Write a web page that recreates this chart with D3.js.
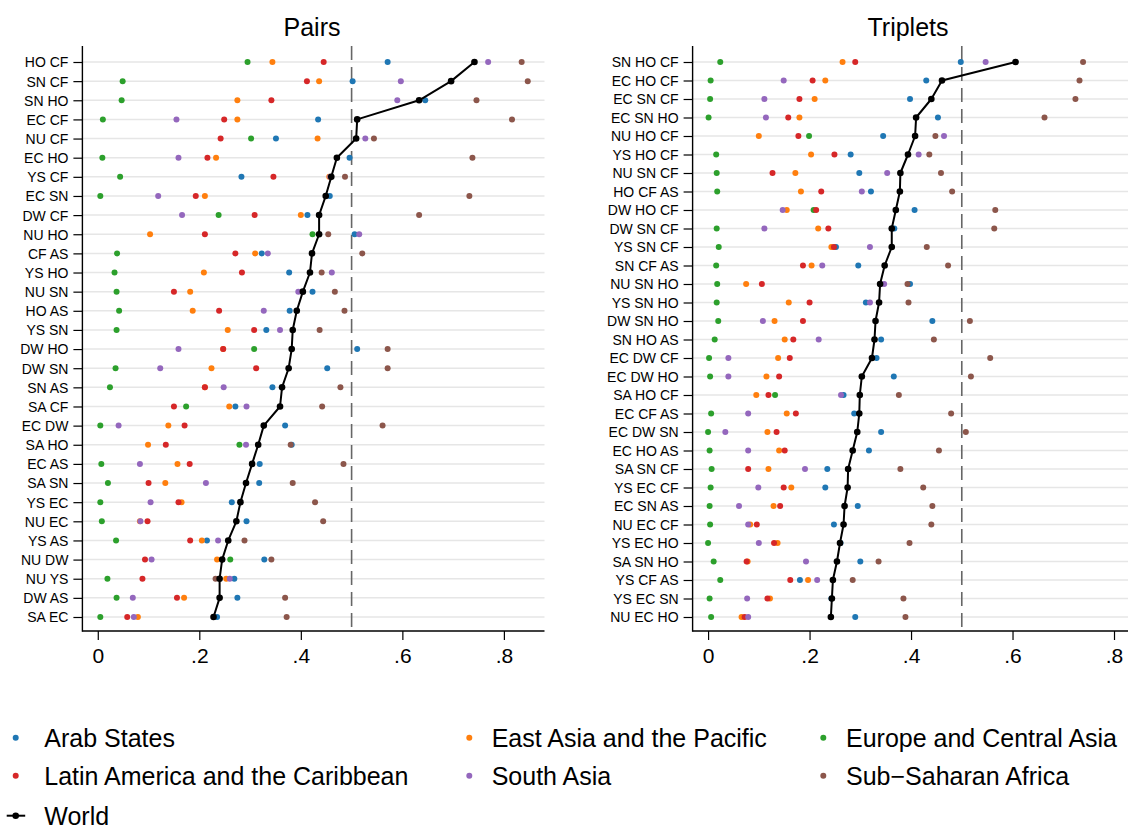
<!DOCTYPE html>
<html>
<head>
<meta charset="utf-8">
<script src="https://cdn.jsdelivr.net/npm/d3@7"></script>
<style>
  html, body { margin: 0; padding: 0; background: #fff; }
  svg { display: block; font-family: "Liberation Sans", Arial, Helvetica, sans-serif; }
</style>
</head>
<body>
<div id="chart"></div>
<script>
// ---------------- DATA ----------------
const seriesNames = ["Arab States", "East Asia and the Pacific", "Europe and Central Asia",
  "Latin America and the Caribbean", "South Asia", "Sub\u2212Saharan Africa", "World"];
const seriesColors = ["#1f77b4", "#ff7f0e", "#2ca02c", "#d62728", "#9467bd", "#8c564b", "#000000"];
const xTicks = [0, 0.2, 0.4, 0.6, 0.8];
const xTickLabels = ["0", ".2", ".4", ".6", ".8"];
const refLine = 0.5;

// Pairs
const pairCats = ["HO CF","SN CF","SN HO","EC CF","NU CF","EC HO","YS CF","EC SN","DW CF","NU HO",
  "CF AS","YS HO","NU SN","HO AS","YS SN","DW HO","DW SN","SN AS","SA CF","EC DW",
  "SA HO","EC AS","SA SN","YS EC","NU EC","YS AS","NU DW","NU YS","DW AS","SA EC"];
const pairArab  = [.571,.502,.645,.434,.351,.496,.283,.457,.413,.506,.323,.377,.423,.378,.332,.511,.452,.344,.271,.369,.382,.319,.318,.264,.293,.215,.328,.269,.275,.235];
const pairEAP   = [.344,.436,.275,.275,.433,.233,.456,.211,.400,.103,.310,.209,.182,.187,.256,.247,.224,.211,.259,.139,.099,.157,.133,.165,.083,.205,.235,.253,.170,.079];
const pairECA   = [.295,.049,.047,.010,.302,.009,.044,.005,.238,.423,.038,.033,.037,.042,.037,.308,.035,.024,.174,.005,.279,.007,.020,.005,.008,.036,.261,.019,.037,.005];
const pairLAC   = [.445,.412,.342,.249,.242,.216,.346,.193,.309,.211,.271,.284,.150,.239,.308,.247,.312,.211,.150,.171,.134,.181,.100,.159,.098,.182,.093,.088,.156,.058];
const pairSA    = [.769,.597,.590,.155,.527,.159,.458,.119,.166,.515,.335,.461,.395,.327,.359,.159,.123,.248,.293,.041,.292,.083,.213,.104,.084,.237,.106,.260,.069,.071];
const pairSSA   = [.835,.847,.746,.816,.544,.738,.487,.732,.633,.454,.521,.441,.467,.486,.437,.571,.571,.478,.442,.561,.380,.484,.384,.428,.444,.289,.342,.232,.369,.372];
const pairWorld = [.742,.696,.633,.511,.509,.471,.460,.449,.436,.436,.422,.418,.404,.392,.384,.382,.376,.363,.359,.327,.316,.304,.292,.281,.273,.257,.245,.240,.240,.228];

// Triplets
const tripCats = ["SN HO CF","EC HO CF","EC SN CF","EC SN HO","NU HO CF","YS HO CF","NU SN CF","HO CF AS","DW HO CF","DW SN CF",
  "YS SN CF","SN CF AS","NU SN HO","YS SN HO","DW SN HO","SN HO AS","EC DW CF","EC DW HO","SA HO CF","EC CF AS",
  "EC DW SN","EC HO AS","SA SN CF","YS EC CF","EC SN AS","NU EC CF","YS EC HO","SA SN HO","YS CF AS","YS EC SN","NU EC HO"];
const tripArab  = [.498,.430,.398,.453,.345,.281,.298,.321,.407,.367,.252,.296,.398,.311,.442,.341,.332,.366,.267,.288,.341,.317,.235,.231,.295,.248,.261,.300,.181,.243,.290];
const tripEAP   = [.265,.231,.210,.180,.100,.203,.172,.183,.155,.217,.243,.204,.075,.159,.131,.151,.138,.115,.095,.155,.117,.140,.119,.164,.129,.083,.137,.078,.197,.122,.066];
const tripECA   = [.024,.005,.004,.001,.199,.016,.017,.018,.208,.017,.021,.016,.018,.017,.020,.013,.002,.004,.132,.006,.000,.003,.007,.005,.003,.004,.000,.011,.024,.003,.006];
const tripLAC   = [.290,.206,.180,.158,.178,.249,.127,.223,.213,.237,.248,.187,.106,.200,.187,.168,.161,.140,.119,.173,.135,.151,.079,.149,.142,.096,.130,.076,.162,.117,.072];
const tripSA    = [.547,.149,.111,.114,.465,.415,.353,.303,.147,.111,.319,.225,.347,.319,.108,.218,.040,.040,.262,.079,.034,.079,.191,.099,.061,.079,.100,.193,.215,.077,.079];
const tripSSA   = [.739,.732,.724,.663,.448,.436,.459,.481,.566,.564,.431,.473,.393,.395,.516,.445,.556,.518,.376,.479,.508,.455,.379,.424,.442,.440,.397,.336,.285,.385,.389];
const tripWorld = [.606,.461,.440,.410,.408,.394,.379,.378,.370,.362,.362,.348,.339,.337,.330,.328,.323,.303,.299,.298,.294,.285,.276,.275,.269,.267,.260,.254,.246,.244,.242];

// ---------------- LAYOUT ----------------
const W = 1128, H = 831;
const plotTop = 46, plotBottom = 631, rowTop = 62, rowBottom = 617;
const panels = [
  { title: "Pairs", titleX: 312, cats: pairCats,
    series: [pairArab, pairEAP, pairECA, pairLAC, pairSA, pairSSA], world: pairWorld,
    domain: [-0.0303, 0.88], range: [82.4, 544.5] },
  { title: "Triplets", titleX: 908, cats: tripCats,
    series: [tripArab, tripEAP, tripECA, tripLAC, tripSA, tripSSA], world: tripWorld,
    domain: [-0.0305, 0.88], range: [692.6, 1154.6] }
];

const svg = d3.select("#chart").append("svg")
  .attr("width", W).attr("height", H).attr("viewBox", `0 0 ${W} ${H}`);
svg.append("rect").attr("width", W).attr("height", H).attr("fill", "#fff");

panels.forEach(p => {
  const x = d3.scaleLinear().domain(p.domain).range(p.range);
  const y = d3.scalePoint().domain(p.cats).range([rowTop, rowBottom]);
  const g = svg.append("g");
  const x0 = p.range[0], x1 = p.range[1];

  // title
  g.append("text").attr("x", p.titleX).attr("y", 35.7)
    .attr("text-anchor", "middle").attr("font-size", 25).attr("fill", "#000").text(p.title);

  // gridlines
  g.append("g").selectAll("line").data(p.cats).join("line")
    .attr("x1", x0).attr("x2", x1)
    .attr("y1", d => y(d)).attr("y2", d => y(d))
    .attr("stroke", "#e6e6e6").attr("stroke-width", 1.5);

  // reference line
  g.append("line").attr("x1", x(refLine)).attr("x2", x(refLine))
    .attr("y1", plotTop).attr("y2", plotBottom)
    .attr("stroke", "#666").attr("stroke-width", 1.6)
    .attr("stroke-dasharray", "14,7");

  // y axis
  const yAxis = d3.axisLeft(y).tickSize(9).tickPadding(5);
  const ya = g.append("g").attr("transform", `translate(${x0},0)`).call(yAxis);
  ya.select(".domain").remove();
  ya.append("line").attr("x1", 0).attr("x2", 0).attr("y1", plotTop).attr("y2", plotBottom + 0.7)
    .attr("stroke", "#000").attr("stroke-width", 1.4);
  ya.selectAll(".tick line").attr("stroke", "#000").attr("stroke-width", 1.2);
  ya.selectAll(".tick text").attr("font-size", 14).attr("fill", "#000")
    .attr("font-family", "Liberation Sans, Arial, sans-serif").attr("dy", "0.35em");

  // x axis
  const xAxis = d3.axisBottom(x).tickValues(xTicks).tickSize(9).tickPadding(8)
    .tickFormat((d, i) => xTickLabels[i]);
  const xa = g.append("g").attr("transform", `translate(0,${plotBottom})`).call(xAxis);
  xa.select(".domain").remove();
  xa.append("line").attr("x1", x0).attr("x2", x1).attr("y1", 0).attr("y2", 0)
    .attr("stroke", "#000").attr("stroke-width", 1.4);
  xa.selectAll(".tick line").attr("stroke", "#000").attr("stroke-width", 1.2);
  xa.selectAll(".tick text").attr("font-size", 21).attr("fill", "#000")
    .attr("font-family", "Liberation Sans, Arial, sans-serif");

  // regional points
  p.series.forEach((vals, si) => {
    g.append("g").selectAll("circle").data(vals).join("circle")
      .attr("cx", d => x(d)).attr("cy", (d, i) => y(p.cats[i]))
      .attr("r", 3.0).attr("fill", seriesColors[si]);
  });

  // world line + points
  const line = d3.line().x(d => x(d)).y((d, i) => y(p.cats[i]));
  g.append("path").datum(p.world).attr("d", line)
    .attr("fill", "none").attr("stroke", "#000").attr("stroke-width", 2).attr("stroke-linejoin", "round");
  g.append("g").selectAll("circle").data(p.world).join("circle")
    .attr("cx", d => x(d)).attr("cy", (d, i) => y(p.cats[i]))
    .attr("r", 3.3).attr("fill", "#000");
});

// ---------------- LEGEND ----------------
const legendPos = [
  { mx: 15.7, tx: 44.3, cy: 737.7 },
  { mx: 469.3, tx: 491.7, cy: 737.7 },
  { mx: 823.3, tx: 846, cy: 737.7 },
  { mx: 15.7, tx: 44.3, cy: 775.7 },
  { mx: 469.3, tx: 491.7, cy: 775.7 },
  { mx: 823.3, tx: 846, cy: 775.7 },
  { mx: 15.7, tx: 44.3, cy: 815.7 }
];
const lg = svg.append("g");
seriesNames.forEach((name, i) => {
  const pos = legendPos[i];
  if (i === 6) {
    lg.append("line").attr("x1", pos.mx - 9).attr("x2", pos.mx + 9.5)
      .attr("y1", pos.cy).attr("y2", pos.cy).attr("stroke", "#000").attr("stroke-width", 2);
    lg.append("circle").attr("cx", pos.mx).attr("cy", pos.cy).attr("r", 3.3).attr("fill", "#000");
  } else {
    lg.append("circle").attr("cx", pos.mx).attr("cy", pos.cy).attr("r", 3.0).attr("fill", seriesColors[i]);
  }
  lg.append("text").attr("x", pos.tx).attr("y", pos.cy + 9)
    .attr("font-size", 25).attr("fill", "#000").text(name);
});
</script>
</body>
</html>
